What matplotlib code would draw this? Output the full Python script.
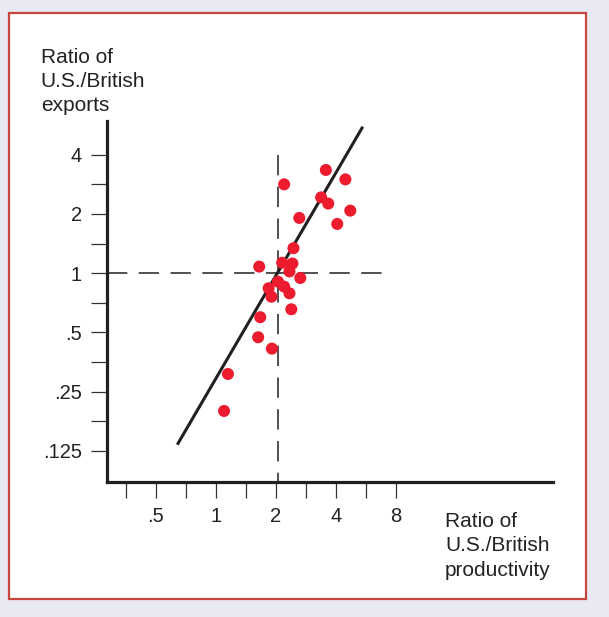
import matplotlib
matplotlib.use("Agg")
from matplotlib import pyplot as plt
from matplotlib.patches import Rectangle

plt.rcParams['font.family'] = ['Liberation Sans', 'DejaVu Sans']

# datos (productividad, exportaciones)
productividad = [3.56, 4.46, 2.20, 3.37, 3.66, 4.72, 2.62, 4.06, 2.45, 1.65,
                 2.15, 2.42, 2.34, 2.65, 2.05, 1.84, 2.20, 2.34, 1.90, 2.39,
                 1.67, 1.63, 1.91, 1.15, 1.10]
exportaciones = [3.35, 3.00, 2.83, 2.43, 2.26, 2.08, 1.91, 1.78, 1.34, 1.08,
                 1.13, 1.12, 1.02, 0.945, 0.905, 0.838, 0.854, 0.790, 0.759, 0.655,
                 0.597, 0.472, 0.413, 0.307, 0.199]

# recta de ajuste (extremos)
recta_x = [0.641, 5.45]
recta_y = [0.134, 5.56]

xticks = [0.3536, 0.5, 0.7071, 1, 1.414, 2, 2.828, 4, 5.657, 8]
xlabels = ['', '.5', '', '1', '', '2', '', '4', '', '8']
yticks = [0.125, 0.1768, 0.25, 0.3536, 0.5, 0.7071, 1, 1.414, 2, 2.828, 4]
ylabels = ['.125', '', '.25', '', '.5', '', '1', '', '2', '', '4']

W, H = 609, 617
fig = plt.figure(figsize=(W / 100, H / 100), dpi=100, facecolor='#E9E9F3')

# marco rojo
fig.patches.append(Rectangle((8.7 / W, 1 - 598.5 / H), (585.7 - 8.7) / W, (598.5 - 13.3) / H,
                             transform=fig.transFigure, facecolor='white',
                             edgecolor='#C9463C', linewidth=1.6, zorder=-5))

ax = fig.add_axes([107 / W, (H - 482) / H, (553.3 - 107) / W, (482 - 120.5) / H])
ax.set_facecolor('none')
ax.set_xscale('log', base=2)
ax.set_yscale('log', base=2)
ax.set_xlim(0.285, 49.1)
ax.set_ylim(0.0866, 5.98)

ink = '#231F20'
# lineas punteadas en 1 y 2
ax.plot([0.285, 6.9], [1, 1], color=ink, linewidth=1.1, dashes=(13.3, 7.5), zorder=2)
ax.plot([2.04, 2.04], [4.0, 0.0866], color=ink, linewidth=1.1, dashes=(13.3, 7.5), zorder=2)
ax.plot(recta_x, recta_y, color=ink, linewidth=2.2, solid_capstyle='butt', zorder=3)
ax.scatter(productividad, exportaciones, s=75, color='#EC1C2E', edgecolors='none', zorder=4)

for lado in ['top', 'right']:
    ax.spines[lado].set_visible(False)
for lado in ['left', 'bottom']:
    ax.spines[lado].set_linewidth(2.3)
    ax.spines[lado].set_color(ink)

ax.minorticks_off()
ax.set_xticks(xticks)
ax.set_xticklabels(xlabels)
ax.set_yticks(yticks)
ax.set_yticklabels(ylabels)
ax.tick_params(axis='both', direction='out', length=11.5, width=0.9, color='#333333',
               labelsize=14.5, labelcolor='#222222')
ax.tick_params(axis='x', pad=6.5)
ax.tick_params(axis='y', pad=6.5)

fig.text(40.7 / W, 1 - 48 / H, 'Ratio of\nU.S./British\nexports', fontsize=15,
         color='#222222', va='top', ha='left', linespacing=1.34)
fig.text(445 / W, 1 - 512 / H, 'Ratio of\nU.S./British\nproductivity', fontsize=15,
         color='#222222', va='top', ha='left', linespacing=1.36)

fig.savefig('out.png', dpi=100, facecolor=fig.get_facecolor())
